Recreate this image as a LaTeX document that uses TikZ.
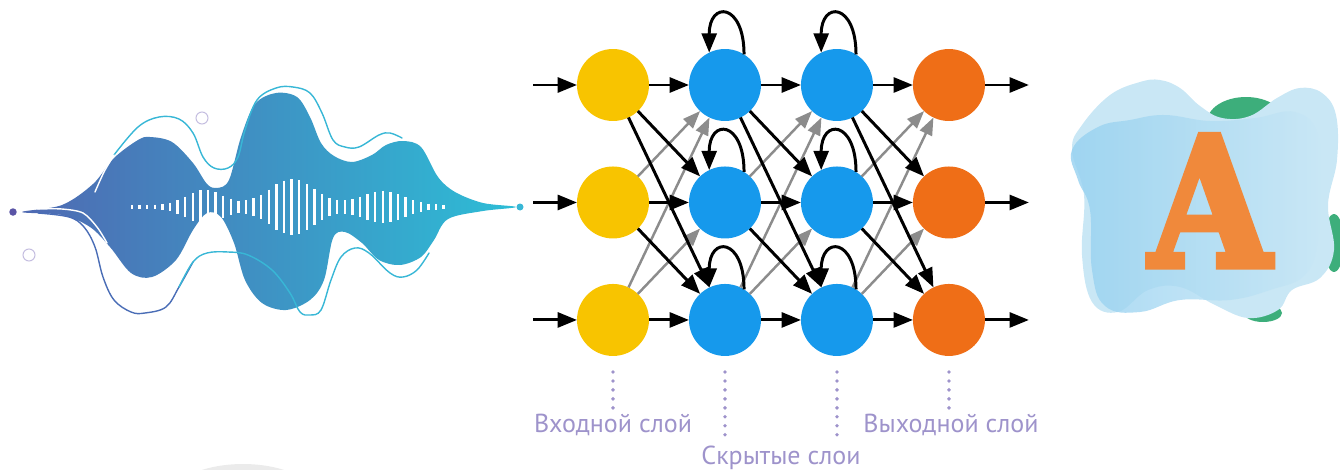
\documentclass[tikz,border=0pt]{standalone}
\usepackage{fontspec}
\setmainfont{PT Sans}
\newfontfamily\slabfont[BoldFeatures={FakeBold=4}]{DejaVu Serif}
\usetikzlibrary{arrows.meta,positioning}

\definecolor{inyellow}{HTML}{F8C400}
\definecolor{hidblue}{HTML}{1699EC}
\definecolor{outorange}{HTML}{EF6E17}
\definecolor{lavender}{HTML}{9E93CB}
\definecolor{wavel}{HTML}{4F69B2}
\definecolor{waver}{HTML}{2DBDD6}
\definecolor{wavecyan}{HTML}{38B7D6}
\definecolor{wireblue}{HTML}{4A6DB6}
\definecolor{dotpurple}{HTML}{5A54A6}
\definecolor{leafgreen}{HTML}{3DAE7B}
\definecolor{skyblue}{HTML}{94D0F0}
\definecolor{paleblue}{HTML}{C9E7F5}
\definecolor{letterorange}{HTML}{F0893B}

\tikzset{
  neuron/.style = {circle, draw=none, inner sep=0pt, outer sep=0pt,
    minimum size=1.44cm},
  fwd/.style = {-{Triangle[length=11pt,width=8.5pt]}, line width=1.7pt,
    black},% forward / downward links
  back/.style = {-{Triangle[length=10pt,width=7.5pt]}, line width=1.4pt,
    black!45},% upward links, grey
  wire/.style = {line width=0.8pt, line cap=round},
  dots/.style = {lavender, line width=2.2pt, line cap=round,
    dash pattern=on 0pt off 5.1pt},
  layerlabel/.style = {lavender, font=\fontsize{14.8}{17}\selectfont,
    inner sep=2pt}
}

\begin{document}
\begin{tikzpicture}[x=0.02cm, y=-0.02cm]
\useasboundingbox (0,0) rectangle (1340,470);

% faint disc at the bottom edge
\fill[black!8] (243,506) ellipse [x radius=1.6cm, y radius=0.84cm];

% sound wave
\shade[left color=wavel, right color=waver] plot[smooth cycle, tension=0.55] coordinates {
  (22,212) (62,205) (93,184) (114,158) (138,140) (150,137) (172,142)
  (193,163) (207,184) (217,188) (229,180) (241,137) (255,104) (276,93)
  (297,97) (310,117) (321,143) (334,156) (352,162) (372,155) (386,145)
  (403,141) (421,147) (438,177) (455,192) (483,203) (516,207) (483,211)
  (448,219) (434,240) (421,257) (400,265) (379,260) (362,243) (345,232)
  (333,238) (324,280) (310,300) (286,310) (262,303) (245,280) (234,243)
  (221,217) (207,213) (193,230) (176,260) (152,277) (131,273) (110,247)
  (90,227) (62,215)};
\foreach \i in {0,...,41} {
  \pgfmathsetmacro\bx{132+7.6*\i}
  \pgfmathsetmacro\bh{2+15*exp(-min(((\bx-205)/26)^2,20))
    +26*exp(-min(((\bx-292)/32)^2,20))+14*exp(-min(((\bx-382)/30)^2,20))}
  \draw[white, line width=1.3pt] (\bx,207-\bh) -- (\bx,207+\bh);
}
\draw[wire, wavecyan] plot[smooth, tension=0.6] coordinates {
  (114,155) (138,127) (159,117) (179,119) (193,133) (203,157) (214,168)
  (228,168) (238,157) (245,130) (257,100) (276,88) (293,87) (310,93)
  (322,113) (333,140) (345,147) (359,147) (379,135) (390,133) (402,138)};
\draw[wire, white] plot[smooth] coordinates {(95,192) (104,172) (114,155)};
\draw[wire, wireblue] plot[smooth, tension=0.6] coordinates {
  (38,213) (69,217) (84,227) (95,247) (103,277) (114,300) (131,312)
  (145,313) (166,307) (179,287) (193,262)};
\draw[wire, wavecyan] plot[smooth, tension=0.6] coordinates {
  (179,287) (193,262) (207,253) (228,252) (248,255) (272,270) (290,293)
  (300,312) (310,315) (321,310) (331,280) (341,257) (355,248) (369,253)
  (390,273) (403,277) (417,270) (429,253)};
\draw[wire, white] plot[smooth] coordinates {
  (38,209) (62,209) (83,213) (97,227) (107,243)};
\fill[dotpurple] (13,212) circle [radius=0.075cm];
\fill[wavecyan] (520,207) circle [radius=0.07cm];
\draw[lavender!60, line width=0.6pt] (202,118) circle [radius=0.12cm];
\draw[lavender!60, line width=0.6pt] (29,255) circle [radius=0.12cm];

% network
\node[neuron, fill=inyellow] (in1) at (613,85) {};
\node[neuron, fill=inyellow, below=0.91cm of in1] (in2) {};
\node[neuron, fill=inyellow, below=0.91cm of in2] (in3) {};
\node[neuron, fill=hidblue, right=0.8cm of in1] (ha1) {};
\node[neuron, fill=hidblue, right=0.8cm of in2] (ha2) {};
\node[neuron, fill=hidblue, right=0.8cm of in3] (ha3) {};
\node[neuron, fill=hidblue, right=0.8cm of ha1] (hb1) {};
\node[neuron, fill=hidblue, right=0.8cm of ha2] (hb2) {};
\node[neuron, fill=hidblue, right=0.8cm of ha3] (hb3) {};
\node[neuron, fill=outorange, right=0.8cm of hb1] (out1) {};
\node[neuron, fill=outorange, right=0.8cm of hb2] (out2) {};
\node[neuron, fill=outorange, right=0.8cm of hb3] (out3) {};

\foreach \i in {1,2,3} {
  \coordinate[left=0.88cm of in\i] (src\i);
  \coordinate[right=0.88cm of out\i] (snk\i);
  \draw[fwd] (src\i) -- (in\i);
  \draw[fwd] (out\i) -- (snk\i);
}
\foreach \a/\b in {in/ha, ha/hb, hb/out} {
  \foreach \i/\j in {2/1, 3/1, 3/2}
    \draw[back] (\a\i) -- (\b\j);
  \foreach \i/\j in {1/1, 2/2, 3/3, 1/2, 1/3, 2/3}
    \draw[fwd] (\a\i) -- (\b\j);
}
% recurrent loops on the hidden units
\foreach \n in {ha1, ha2, ha3, hb1, hb2, hb3}
  \draw[fwd] (\n.58) .. controls +(0,-52) and +(0,-52) .. (\n.116);

% layer captions
\node[layerlabel, anchor=base] (lin) at (613,432) {Входной слой};
\node[layerlabel, anchor=base] (lhid) at (781,464) {Скрытые слои};
\node[layerlabel, anchor=base] (lout) at (951,432) {Выходной слой};
\coordinate (lay1) at (613,372);
\coordinate (lay2) at (725,372);
\coordinate (lay3) at (837,372);
\coordinate (lay4) at (949,372);
\draw[dots] (lay1) -- (lay1 |- lin.north);
\draw[dots] (lay2) -- (lay2 |- lhid.north);
\draw[dots] (lay3) -- (lay3 |- lhid.north);
\draw[dots] (lay4) -- (lay4 |- lout.north);

% letter on a cloud
\fill[leafgreen] (1246,122) ellipse [x radius=0.78cm, y radius=0.5cm];
\fill[leafgreen] (1334,243) ellipse [x radius=0.2cm, y radius=0.58cm];
\fill[leafgreen] (1263,313) ellipse [x radius=0.38cm, y radius=0.18cm];
\fill[paleblue] plot[smooth cycle, tension=0.65] coordinates {
  (1072,150) (1082,125) (1110,95) (1140,82) (1160,80) (1180,88)
  (1200,106) (1222,118) (1250,116) (1277,98) (1300,88) (1322,93)
  (1336,115) (1337,160) (1328,205) (1334,250) (1320,278) (1292,290)
  (1278,310) (1248,318) (1215,305) (1180,287) (1148,290) (1118,312)
  (1092,302) (1082,255) (1084,195)};
\shade[left color=skyblue, right color=paleblue, fill opacity=0.8]
  plot[smooth cycle, tension=0.7] coordinates {
  (1072,150) (1098,127) (1130,120) (1165,115) (1210,121) (1255,118)
  (1295,112) (1318,135) (1320,190) (1318,240) (1305,275) (1270,290)
  (1230,300) (1180,300) (1140,312) (1105,306) (1092,270) (1090,210)
  (1078,180)};
\node[letterorange, anchor=base, inner sep=0pt,
  font=\slabfont\bfseries\fontsize{102}{102}\selectfont] (letter) at (1210,266)
  {\scalebox{0.87}[1]{A}};
\end{tikzpicture}
\end{document}
